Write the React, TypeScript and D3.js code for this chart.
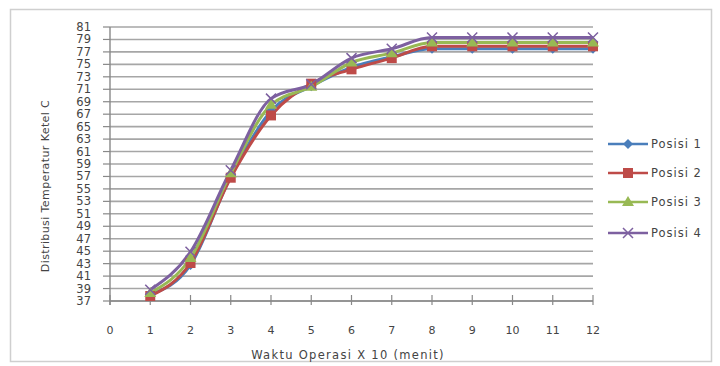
import React from "react";
import * as d3 from "d3";

const xValues = [1, 2, 3, 4, 5, 6, 7, 8, 9, 10, 11, 12];
const posisi1 = [38.0, 42.8, 57.0, 67.5, 71.5, 74.5, 76.2, 77.5, 77.5, 77.5, 77.5, 77.5];
const posisi2 = [37.8, 43.1, 56.8, 66.8, 71.9, 74.2, 76.0, 77.9, 77.9, 77.9, 77.9, 77.9];
const posisi3 = [38.3, 43.9, 57.5, 68.5, 71.4, 75.3, 76.8, 78.5, 78.5, 78.5, 78.5, 78.5];
const posisi4 = [38.8, 44.9, 58.0, 69.5, 71.8, 76.0, 77.5, 79.3, 79.3, 79.3, 79.3, 79.3];
const seriesNames = ["Posisi 1", "Posisi 2", "Posisi 3", "Posisi 4"];
const xTicks = [0, 1, 2, 3, 4, 5, 6, 7, 8, 9, 10, 11, 12];
const yTicks = d3.range(37, 82, 2);

const colors = ["#4a7ebb", "#be4b48", "#98b954", "#7d60a0"];
const markers = ["diamond", "square", "triangle", "x"];

function Marker({ type, x, y, color }: { type: string; x: number; y: number; color: string }) {
  if (type === "diamond") {
    return <path d={`M${x},${y - 5}L${x + 5},${y}L${x},${y + 5}L${x - 5},${y}Z`} fill={color} />;
  }
  if (type === "square") {
    return <rect x={x - 5} y={y - 5} width={10} height={10} fill={color} />;
  }
  if (type === "triangle") {
    return <path d={`M${x},${y - 6}L${x + 6},${y + 4}L${x - 6},${y + 4}Z`} fill={color} />;
  }
  return (
    <path
      d={`M${x - 5},${y - 5}L${x + 5},${y + 5}M${x - 5},${y + 5}L${x + 5},${y - 5}`}
      stroke={color}
      strokeWidth={1.5}
      fill="none"
    />
  );
}

export default function App() {
  const W = 720;
  const H = 366;
  const x = d3.scaleLinear().domain([0, 12]).range([110, 593]);
  const y = d3.scaleLinear().domain([37, 81]).range([301, 27]);
  const all = [posisi1, posisi2, posisi3, posisi4];
  const line = d3
    .line<number>()
    .x((_, i) => x(xValues[i]))
    .y((d) => y(d))
    .curve(d3.curveMonotoneX);
  const font = "'DejaVu Sans', Verdana, sans-serif";
  const legendY = [144, 173, 202, 233];

  return (
    <div style={{ position: "fixed", left: 0, top: 0 }}>
      <svg width={W} height={H} style={{ display: "block", background: "#fff" }}>
        <rect x={10.5} y={9.5} width={701} height={352} fill="#fff" stroke="#cfcfcf" strokeWidth={1.5} />
        {yTicks.map((t) => (
          <g key={t}>
            <line x1={x(0)} x2={x(12)} y1={y(t)} y2={y(t)} stroke="#a6a6a6" strokeWidth={1.6} />
            <line x1={103} x2={x(0)} y1={y(t)} y2={y(t)} stroke="#888" strokeWidth={1.2} />
            <text
              x={91}
              y={y(t) + 4}
              textAnchor="end"
              fontFamily={font}
              fontSize={11.5}
              fill="#444"
            >
              {t}
            </text>
          </g>
        ))}
        <line x1={x(0)} x2={x(0)} y1={y(81)} y2={y(37) + 4} stroke="#888" strokeWidth={1.4} />
        <line x1={x(0)} x2={x(12)} y1={y(37)} y2={y(37)} stroke="#888" strokeWidth={1.4} />
        {xTicks.map((t) => (
          <g key={t}>
            <line x1={x(t)} x2={x(t)} y1={y(37) - 6} y2={y(37) + 4} stroke="#888" strokeWidth={1.2} />
            <text x={x(t)} y={y(37) + 33} textAnchor="middle" fontFamily={font} fontSize={11} fill="#444">
              {t}
            </text>
          </g>
        ))}
        {all.map((s, si) => (
          <path key={si} d={line(s) || ""} fill="none" stroke={colors[si]} strokeWidth={3} />
        ))}
        {all.map((s, si) => (
          <g key={"m" + si}>
            {s.map((v, i) => (
              <Marker key={i} type={markers[si]} x={x(xValues[i])} y={y(v)} color={colors[si]} />
            ))}
          </g>
        ))}
        <text
          x={348}
          y={359}
          textAnchor="middle"
          fontFamily={font}
          fontSize={11.5}
          letterSpacing={1.3}
          fill="#444"
        >
          Waktu Operasi  X 10 (menit)
        </text>
        <text
          transform="translate(49,186) rotate(-90)"
          textAnchor="middle"
          fontFamily={font}
          fontSize={11}
          letterSpacing={0.4}
          fill="#444"
        >
          Distribusi Temperatur Ketel C
        </text>
        {seriesNames.map((n, i) => (
          <g key={n}>
            <line x1={608} x2={648} y1={legendY[i]} y2={legendY[i]} stroke={colors[i]} strokeWidth={2.5} />
            <Marker type={markers[i]} x={628} y={legendY[i]} color={colors[i]} />
            <text
              x={651}
              y={legendY[i] + 4}
              fontFamily={font}
              fontSize={11.5}
              letterSpacing={1}
              fill="#444"
            >
              {n}
            </text>
          </g>
        ))}
      </svg>
    </div>
  );
}
